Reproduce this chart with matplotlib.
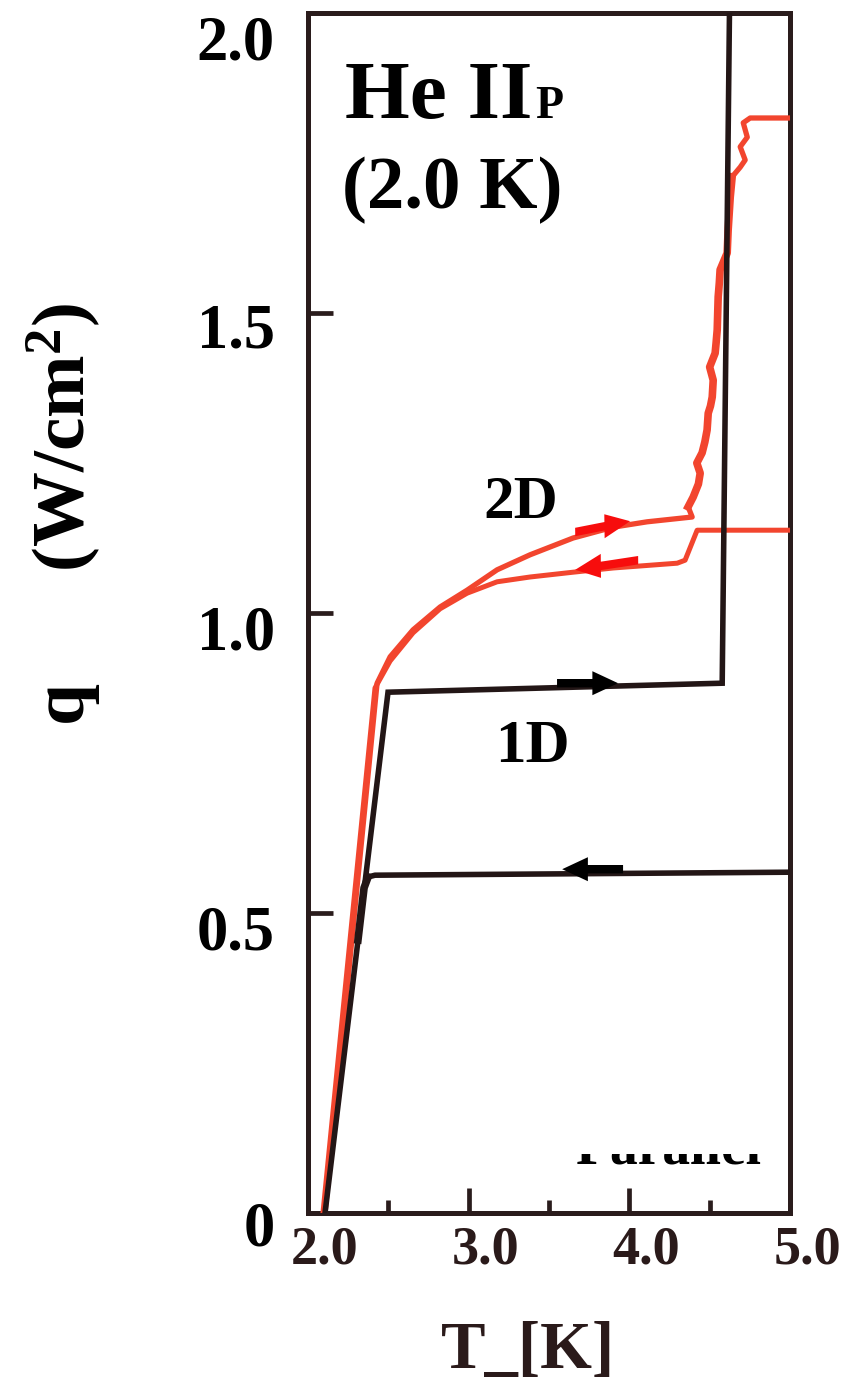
import matplotlib
matplotlib.use("Agg")
import matplotlib.pyplot as plt
from matplotlib.transforms import ScaledTranslation
from matplotlib.patches import Rectangle

plt.rcParams['font.family'] = ['Liberation Serif', 'DejaVu Serif']
plt.rcParams['font.weight'] = 'bold'
plt.rcParams['mathtext.default'] = 'regular'

# ---- data (T in K, q in W/cm^2) ----
# 1D channel, heating branch
T_1d_up = [2.106, 2.498, 4.578, 4.624]
q_1d_up = [0.0, 0.868, 0.883, 2.02]
# 1D channel, cooling branch
T_1d_down = [5.0, 2.417, 2.374, 2.349, 2.311]
q_1d_down = [0.568, 0.563, 0.560, 0.542, 0.455]

# 2D channel, heating branch
T_2d_up = [2.106, 2.430, 2.511, 2.654, 2.822, 2.990, 3.177, 3.382, 3.650, 3.899,
           4.111, 4.391, 4.366, 4.397, 4.430, 4.441, 4.420, 4.453, 4.470, 4.484,
           4.491, 4.505, 4.516, 4.522, 4.500, 4.534, 4.540, 4.547, 4.553, 4.560,
           4.565, 4.609, 4.615, 4.628, 4.640, 4.690, 4.721, 4.690, 4.734, 4.709,
           4.752, 5.0]
q_2d_up = [0.0, 0.883, 0.927, 0.972, 1.010, 1.038, 1.072, 1.097, 1.125, 1.143,
           1.152, 1.160, 1.177, 1.193, 1.215, 1.233, 1.250, 1.267, 1.285, 1.305,
           1.333, 1.345, 1.360, 1.388, 1.410, 1.433, 1.450, 1.472, 1.527, 1.550,
           1.572, 1.600, 1.638, 1.693, 1.727, 1.743, 1.755, 1.777, 1.793, 1.817,
           1.825, 1.825]
# 2D channel, cooling branch
T_2d_down = [5.0, 4.422, 4.347, 4.298, 3.899, 3.650, 3.382, 3.177, 2.990, 2.822,
             2.654, 2.511, 2.417, 2.093]
q_2d_down = [1.138, 1.138, 1.088, 1.083, 1.075, 1.068, 1.060, 1.052, 1.033, 1.007,
             0.967, 0.920, 0.875, 0.0]

# direction arrows: (T_start, q_start, T_end, q_end)
arrow_1d_up = (3.550, 0.883, 3.930, 0.883)
arrow_1d_down = (3.961, 0.573, 3.582, 0.573)
arrow_2d_up = (3.663, 1.135, 4.005, 1.153)
arrow_2d_down = (4.055, 1.088, 3.663, 1.072)

x_ticks = [2.0, 3.0, 4.0, 5.0]
x_ticklabels = ['2.0', '3.0', '4.0', '5.0']
x_minor = [2.5, 3.5, 4.5]
y_ticks = [0.0, 0.5, 1.0, 1.5, 2.0]
y_ticklabels = ['0', '0.5', '1.0', '1.5', '2.0']

W, H = 848, 1383
frame_col = '#2a1c1c'
black_col = '#231616'
red_col = '#f2452e'
arrow_red = '#f70d0d'


def fxy(x, y):
    # pixel position -> figure fraction
    return x / W, 1 - y / H


fig = plt.figure(figsize=(W / 100, H / 100), dpi=100)
ax = fig.add_axes([308 / W, 1 - 1213 / H, (790 - 308) / W, (1213 - 13) / H])

ax.plot(T_2d_up, q_2d_up, color=red_col, lw=3.8, solid_joinstyle='round', zorder=3)
# noisy part of the 2D rise looks thicker in the scan
ax.plot(T_2d_up[12:35], q_2d_up[12:35], color=red_col, lw=5.5, solid_joinstyle='round', zorder=3)
ax.plot(T_2d_down, q_2d_down, color=red_col, lw=3.6, solid_joinstyle='round', zorder=3)
ax.plot(T_1d_up, q_1d_up, color=black_col, lw=4, solid_joinstyle='miter', zorder=4)
ax.plot(T_1d_down, q_1d_down, color=black_col, lw=4, zorder=4)
ax.plot(T_1d_down[-3:], q_1d_down[-3:], color=black_col, lw=5.5, zorder=4)

for (x0, y0, x1, y1), c in [(arrow_1d_up, 'black'), (arrow_1d_down, 'black'),
                            (arrow_2d_up, arrow_red), (arrow_2d_down, arrow_red)]:
    ax.arrow(x0, y0, x1 - x0, y1 - y0, width=0.014, head_width=0.04,
             head_length=0.16, length_includes_head=True, color=c, lw=0, zorder=6)

ax.set_xlim(2.0, 5.0)
ax.set_ylim(0.0, 2.0)
ax.set_xticks(x_ticks)
ax.set_xticklabels(x_ticklabels)
ax.set_xticks(x_minor, minor=True)
ax.set_yticks(y_ticks)
ax.set_yticklabels(y_ticklabels)

for s in ax.spines.values():
    s.set_linewidth(3.6)
    s.set_color(frame_col)
ax.tick_params(axis='x', which='major', direction='in', length=18, width=3.4,
               color=frame_col, labelsize=39, pad=9, labelcolor='#2a1a1a')
ax.tick_params(axis='x', which='minor', direction='in', length=9.5, width=3.4,
               color=frame_col)
ax.tick_params(axis='y', which='major', direction='in', length=18, width=3.4,
               color=frame_col, labelsize=45, pad=24)

for lab in ax.get_xticklabels():
    lab.set_transform(lab.get_transform() + ScaledTranslation(0.17, 0, fig.dpi_scale_trans))
y_shift = [0.10, 0.15, 0.14, 0.12, 0.25]
for lab, d in zip(ax.get_yticklabels(), y_shift):
    lab.set_transform(lab.get_transform() + ScaledTranslation(0, -d, fig.dpi_scale_trans))

# partly covered old label near the bottom
ax.text(*fxy(576, 1164), 'Parallel', transform=fig.transFigure, fontsize=40,
        fontweight='bold', va='baseline', ha='left', zorder=1)
fig.add_artist(Rectangle(fxy(560, 1154), 215 / W, 80 / H, transform=fig.transFigure,
                         facecolor='white', edgecolor='none', zorder=2))

fig.text(*fxy(345, 118), 'He II', fontsize=60, fontweight='bold', va='baseline')
fig.text(*fxy(535, 118), 'P', fontsize=33, fontweight='bold', va='baseline')
fig.text(*fxy(342, 208), '(2.0 K)', fontsize=54, fontweight='bold', va='baseline')
fig.text(*fxy(483, 518), '2D', fontsize=44, fontweight='bold', va='baseline')
fig.text(*fxy(495, 762), '1D', fontsize=44, fontweight='bold', va='baseline')

fig.text(*fxy(64, 515), 'q      (W/cm$^{2}$)', fontsize=54, fontweight='bold',
         rotation=90, ha='center', va='center')
fig.text(*fxy(528, 1368), 'T_[K]', fontsize=48, fontweight='bold', ha='center',
         va='baseline', color='#2a1a1a')

fig.savefig('out.png', dpi=100, facecolor='white')
